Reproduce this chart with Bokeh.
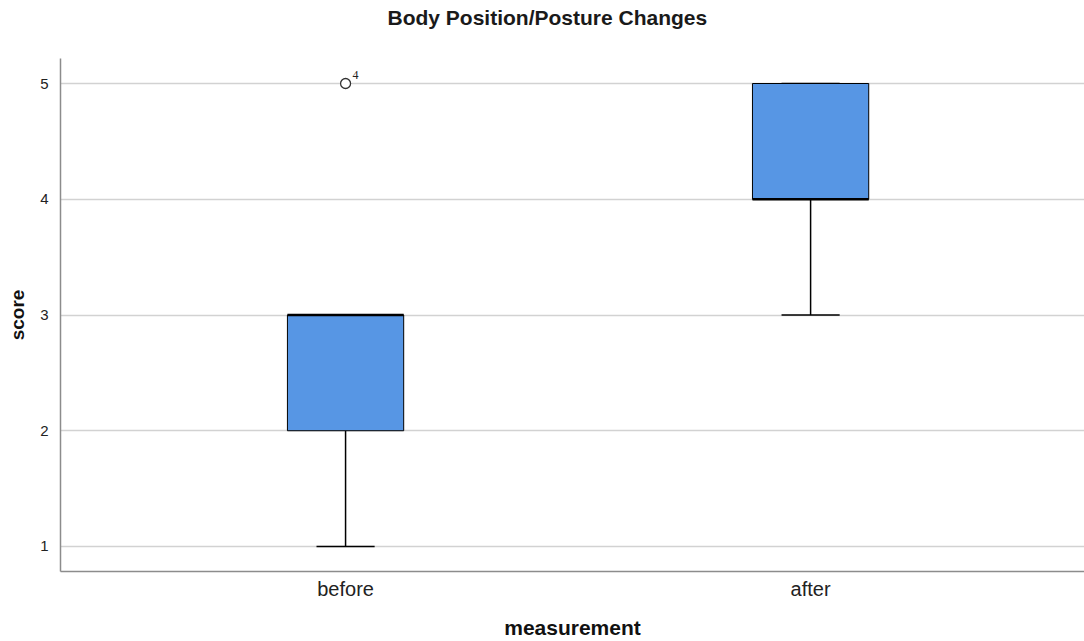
from bokeh.plotting import figure
from bokeh.models import ColumnDataSource, FixedTicker, Range1d, LabelSet, Title
from bokeh.embed import file_html
from bokeh.resources import INLINE

# ---- data ----
title_text = "Body Position/Posture Changes"
categories = ["before", "after"]
positions = [1, 2]
q1 = [2, 4]
median = [3, 4]
q3 = [3, 5]
whisker_low = [1, 3]
whisker_high = [3, 5]
outlier_pos = [1]
outlier_val = [5]
outlier_case = ["4"]
y_ticks = [1, 2, 3, 4, 5]

BOX_W = 0.25
CAP_W = 0.125
FONT = "Liberation Sans"

p = figure(width=1084, height=641, output_backend="svg", toolbar_location=None,
           x_range=Range1d(0.387, 2.589), y_range=Range1d(0.784, 5.216),
           min_border_left=60, min_border_top=58, min_border_right=0, min_border_bottom=70)
p.outline_line_color = None
p.background_fill_color = "white"
p.border_fill_color = "white"

# spacer between the frame and the title
p.add_layout(Title(text=" ", text_font=FONT, text_font_size="21px", standoff=0), "above")

p.title.text = title_text
p.title.align = "left"
p.title.offset = 327
p.title.vertical_align = "top"
p.title.text_font = FONT
p.title.text_font_size = "21px"
p.title.text_font_style = "bold"
p.title.text_color = "#1a1a1a"
p.title.standoff = 6

# grid
p.xgrid.grid_line_color = None
p.ygrid.grid_line_color = "#d2d2d2"
p.ygrid.grid_line_width = 1.5
p.yaxis.ticker = FixedTicker(ticks=y_ticks)
p.xaxis.ticker = FixedTicker(ticks=positions)
p.xaxis.major_label_overrides = {pos: c for pos, c in zip(positions, categories)}

for ax in (p.xaxis[0], p.yaxis[0]):
    ax.axis_line_color = "#8c8c8c"
    ax.axis_line_width = 1.5
    ax.major_tick_line_color = None
    ax.minor_tick_line_color = None
    ax.major_label_text_font = FONT
    ax.major_label_text_color = "#222222"
    ax.axis_label_text_font = FONT
    ax.axis_label_text_font_style = "bold"
    ax.axis_label_text_color = "#111111"

p.xaxis.axis_label = "measurement"
p.xaxis.axis_label_text_font_size = "21px"
p.xaxis.major_label_text_font_size = "20px"
p.xaxis.major_label_standoff = 0
p.xaxis.axis_label_standoff = 13

p.yaxis.axis_label = "score"
p.yaxis.axis_label_text_font_size = "19px"
p.yaxis.major_label_text_font_size = "15px"
p.yaxis.major_label_standoff = 6
p.yaxis.axis_label_standoff = 9

src = ColumnDataSource(dict(
    x=positions, q1=q1, med=median, q3=q3, lo=whisker_low, hi=whisker_high,
    xl=[x - BOX_W / 2 for x in positions], xr=[x + BOX_W / 2 for x in positions],
    cl=[x - CAP_W / 2 for x in positions], cr=[x + CAP_W / 2 for x in positions],
))

# whiskers
p.segment(x0="x", y0="lo", x1="x", y1="q1", source=src, line_color="black", line_width=1.5)
p.segment(x0="x", y0="q3", x1="x", y1="hi", source=src, line_color="black", line_width=1.5)
p.segment(x0="cl", y0="lo", x1="cr", y1="lo", source=src, line_color="black", line_width=1.5)
p.segment(x0="cl", y0="hi", x1="cr", y1="hi", source=src, line_color="black", line_width=1.5)
# boxes
p.vbar(x="x", width=BOX_W, bottom="q1", top="q3", source=src,
       fill_color="#5796e4", line_color="black", line_width=1)
# medians
p.segment(x0="xl", y0="med", x1="xr", y1="med", source=src, line_color="black", line_width=2.5)

# outliers
osrc = ColumnDataSource(dict(x=outlier_pos, y=outlier_val, t=outlier_case))
p.scatter(x="x", y="y", source=osrc, marker="circle", size=10,
          fill_color="white", line_color="#333333", line_width=1.3)
p.add_layout(LabelSet(x="x", y="y", text="t", source=osrc, x_offset=7, y_offset=5,
                      text_font=FONT, text_font_size="12px", text_color="#222222"))

open("out.html", "w").write(file_html(p, INLINE))
